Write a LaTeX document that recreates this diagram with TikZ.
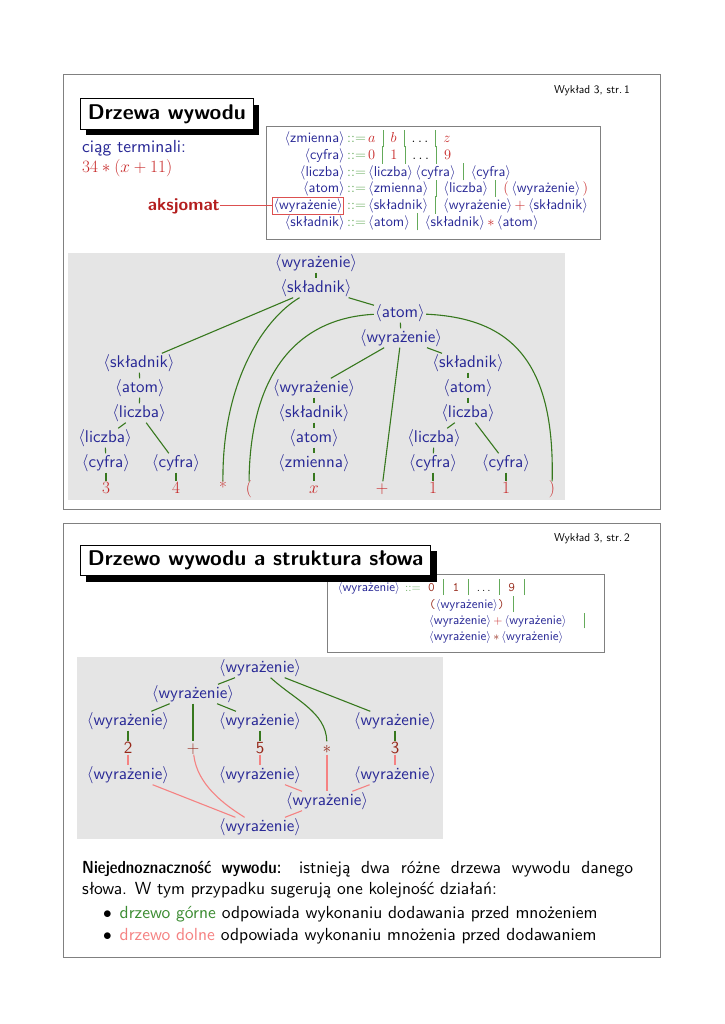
\documentclass[tikz,border=0pt]{standalone}
\usepackage{fontspec}
\setsansfont{lmsans10-regular.otf}[BoldFont=lmsans10-bold.otf]
\newfontfamily\sfdemi{lmsansdemicond10-regular.otf}
\usetikzlibrary{shadows}
\definecolor{ntblue}{RGB}{40,40,150}
\definecolor{termred}{RGB}{200,40,40}
\definecolor{treegreen}{RGB}{55,120,30}
\definecolor{gramgreen}{RGB}{100,170,90}
\definecolor{bggray}{RGB}{229,229,229}
\definecolor{framegray}{RGB}{128,128,128}
\definecolor{lowpink}{RGB}{245,130,130}
\definecolor{brownterm}{RGB}{150,40,25}
\definecolor{axred}{RGB}{180,30,30}
\definecolor{boxred}{RGB}{220,80,80}
\definecolor{textgreen}{RGB}{60,140,50}
\newcommand{\NT}[1]{$\langle$#1$\rangle$}
\newcommand{\gbar}{\hspace{0.5em}{\color{gramgreen}\rule[-0.3em]{0.8pt}{1.22em}}\hspace{0.5em}}
\newcommand{\gbarw}{\hspace{0.65em}{\color{gramgreen}\rule[-0.3em]{0.8pt}{1.25em}}\hspace{0.65em}}
\newcommand{\deriv}{{\color{gramgreen}$::=$}\hspace{0.15em}}
\newcommand{\tmr}[1]{{\color{termred}#1}}
\newcommand{\tmb}[1]{{\color{brownterm}#1}}
\tikzset{
 nt/.style={text=ntblue, font=\sffamily\fontsize{17}{20}\selectfont, inner sep=1pt, text height=12.75pt, text depth=4.25pt},
 leaf/.style={text=termred, font=\fontsize{17}{20}\selectfont, inner sep=1pt, text height=11pt, text depth=0pt},
 bleaf/.style={text=brownterm, font=\sffamily\fontsize{17}{20}\selectfont, inner sep=1pt, text height=11pt, text depth=0pt},
 ge/.style={draw=treegreen, line width=1.1pt},
 pe/.style={draw=lowpink, line width=1.1pt},
 gram/.style={text=ntblue, font=\sffamily\fontsize{14.3}{16}\selectfont, inner sep=0pt},
 gramb/.style={text=ntblue, font=\sffamily\fontsize{13}{16}\selectfont, inner sep=0pt},
 slideframe/.style={draw=framegray, line width=1pt},
 titlebox/.style={draw=black, line width=0.7pt, fill=white, font=\sffamily\bfseries\fontsize{21.3}{25}\selectfont, inner xsep=7.5pt, inner ysep=5.5pt, text height=15pt, text depth=4.5pt, general shadow={fill=black, shadow xshift=6pt, shadow yshift=-6pt}},
 gbox/.style={draw=framegray, line width=0.8pt},
 header/.style={font=\sffamily\fontsize{11.4}{13}\selectfont, inner sep=0pt},
 body/.style={font=\sffamily\fontsize{17.5}{21}\selectfont, inner sep=0pt},
}
\begin{document}
\begin{tikzpicture}[x=1pt,y=-1pt]
\useasboundingbox[fill=white] (0,0) rectangle (724,1024);
% ---------- slide 1 ----------
\draw[slideframe] (63,75) rectangle (660,509);
\node[header, anchor=east] (h1) at (630,91) {Wykład 3, str.\,1};
\node[titlebox, anchor=west] (t1) at (80,114) {Drzewa wywodu};
\node[body, text=ntblue, anchor=west] (ct) at (82,148) {ciąg terminali:};
\node[anchor=west, text=termred, font=\fontsize{17}{20}\selectfont, inner sep=0pt] (expr) at (82,168) {$34*(x+11)$};
% grammar
\draw[gbox] (266,126) rectangle (600,239);
\node[gram, anchor=base east] (g1l) at (345,143) {\NT{zmienna}};
\node[gram, anchor=base west] (g1r) at (347,143) {\deriv\tmr{$a$}\gbar\tmr{$b$}\gbar{\color{black}$\ldots$}\gbar\tmr{$z$}};
\node[gram, anchor=base east] (g2l) at (345,159.6) {\NT{cyfra}};
\node[gram, anchor=base west] (g2r) at (347,159.6) {\deriv\tmr{$0$}\gbar\tmr{$1$}\gbar{\color{black}$\ldots$}\gbar\tmr{$9$}};
\node[gram, anchor=base east] (g3l) at (345,176.2) {\NT{liczba}};
\node[gram, anchor=base west] (g3r) at (347,176.2) {\deriv\NT{liczba}\,\NT{cyfra}\gbar\NT{cyfra}};
\node[gram, anchor=base east] (g4l) at (345,192.8) {\NT{atom}};
\node[gram, anchor=base west] (g4r) at (347,192.8) {\deriv\NT{zmienna}\gbar\NT{liczba}\gbar\tmr{$($}\,\NT{wyrażenie}\,\tmr{$)$}};
\node[gram, anchor=base east, draw=boxred, line width=0.7pt, inner sep=1pt] (g5l) at (344,209.4) {\NT{wyrażenie}};
\node[gram, anchor=base west] (g5r) at (347,209.4) {\deriv\NT{składnik}\gbar\NT{wyrażenie}\,\tmr{$+$}\,\NT{składnik}};
\node[gram, anchor=base east] (g6l) at (345,226) {\NT{składnik}};
\node[gram, anchor=base west] (g6r) at (347,226) {\deriv\NT{atom}\gbar\NT{składnik}\,\tmr{$*$}\,\NT{atom}};
\node[font=\sffamily\bfseries\fontsize{17.5}{20}\selectfont, text=axred, anchor=east, inner sep=0pt] (ax) at (220,206) {aksjomat};
\draw[draw=boxred, line width=0.8pt] (g5l.west) -- (g5l.west -| ax.east);
% tree 1
\fill[bggray] (68,253) rectangle (565,500);
\node[nt] (w0) at (316,263) {\NT{wyrażenie}};
\node[nt] (s0) at (316,288) {\NT{składnik}};
\node[nt] (a0) at (400,313) {\NT{atom}};
\node[nt] (w1) at (401,338) {\NT{wyrażenie}};
\node[nt] (s1) at (139,363) {\NT{składnik}};
\node[nt] (s2) at (468,363) {\NT{składnik}};
\node[nt] (a1) at (140,388) {\NT{atom}};
\node[nt] (w2) at (314,388) {\NT{wyrażenie}};
\node[nt] (a2) at (468,388) {\NT{atom}};
\node[nt] (l1) at (139,413) {\NT{liczba}};
\node[nt] (s3) at (314,413) {\NT{składnik}};
\node[nt] (l2) at (468,413) {\NT{liczba}};
\node[nt] (l3) at (105,438) {\NT{liczba}};
\node[nt] (a3) at (314,438) {\NT{atom}};
\node[nt] (l4) at (434,438) {\NT{liczba}};
\node[nt] (c1) at (106,463) {\NT{cyfra}};
\node[nt] (c2) at (176,463) {\NT{cyfra}};
\node[nt] (z0) at (314,463) {\NT{zmienna}};
\node[nt] (c3) at (433,463) {\NT{cyfra}};
\node[nt] (c4) at (506,463) {\NT{cyfra}};
\node[leaf] (t3) at (106,488) {$3$};
\node[leaf] (t4) at (176,488) {$4$};
\node[leaf] (tstar) at (223,488) {*};
\node[leaf] (tlp) at (249,488) {$($};
\node[leaf] (tx) at (314,488) {$x$};
\node[leaf] (tplus) at (382,488) {$+$};
\node[leaf] (t1a) at (433,488) {$1$};
\node[leaf] (t1b) at (506,488) {$1$};
\node[leaf] (trp) at (552,488) {$)$};
\draw[ge] (w0) -- (s0);
\draw[ge] (s0) -- (s1);
\draw[ge] (s0) .. controls (265,318) and (222,380) .. (tstar);
\draw[ge] (s0) -- (a0);
\draw[ge] (a0) -- (w1);
\draw[ge] (a0) .. controls (300,318) and (250,370) .. (tlp);
\draw[ge] (a0) .. controls (510,318) and (555,360) .. (trp);
\draw[ge] (w1) -- (w2);
\draw[ge] (w1) -- (tplus);
\draw[ge] (w1) -- (s2);
\draw[ge] (s1) -- (a1);
\draw[ge] (a1) -- (l1);
\draw[ge] (l1) -- (l3);
\draw[ge] (l1) -- (c2);
\draw[ge] (l3) -- (c1);
\draw[ge] (c1) -- (t3);
\draw[ge] (c2) -- (t4);
\draw[ge] (w2) -- (s3);
\draw[ge] (s3) -- (a3);
\draw[ge] (a3) -- (z0);
\draw[ge] (z0) -- (tx);
\draw[ge] (s2) -- (a2);
\draw[ge] (a2) -- (l2);
\draw[ge] (l2) -- (l4);
\draw[ge] (l2) -- (c4);
\draw[ge] (l4) -- (c3);
\draw[ge] (c3) -- (t1a);
\draw[ge] (c4) -- (t1b);
% ---------- slide 2 ----------
\draw[slideframe] (63,523) rectangle (660,957);
\node[header, anchor=east] (h2) at (630,539) {Wykład 3, str.\,2};
\draw[gbox] (327,574) rectangle (604,652);
\node[titlebox, anchor=west] (t2) at (80,560.5) {Drzewo wywodu a struktura słowa};
\node[gramb, anchor=base east] (b1l) at (400,591.2) {\NT{wyrażenie}};
\node[gramb, anchor=base west] (b1d) at (405,591.2) {{\color{gramgreen}$::=$}};
\node[gramb, anchor=base west] (b1r) at (428,591.2) {\tmb{\ttfamily 0}\gbarw\tmb{\ttfamily 1}\gbarw{\color{black}$\ldots$}\gbarw\tmb{\ttfamily 9}\gbarw};
\node[gramb, anchor=base west] (b2r) at (429,608.2) {\tmb{\ttfamily (}\NT{wyrażenie}\tmb{\ttfamily )}\gbarw};
\node[gramb, anchor=base west] (b3r) at (429,624.5) {\NT{wyrażenie}\,\tmr{$+$}\,\NT{wyrażenie}\hspace{0.85em}\gbar};
\node[gramb, anchor=base west] (b4r) at (429,640.7) {\NT{wyrażenie}\,\tmb{$*$}\,\NT{wyrażenie}};
% tree 2
\fill[bggray] (77,657) rectangle (443,839);
\node[nt] (b0) at (260,668) {\NT{wyrażenie}};
\node[nt] (b1) at (193,694) {\NT{wyrażenie}};
\node[nt] (b2) at (128,721) {\NT{wyrażenie}};
\node[nt] (b3) at (260,721) {\NT{wyrażenie}};
\node[nt] (b4) at (395,721) {\NT{wyrażenie}};
\node[bleaf] (u2) at (128,748) {2};
\node[bleaf] (uplus) at (193,748) {$+$};
\node[bleaf] (u5) at (260,748) {5};
\node[bleaf] (ustar) at (327,748) {$*$};
\node[bleaf] (u3) at (395,748) {3};
\node[nt] (b5) at (128,775) {\NT{wyrażenie}};
\node[nt] (b6) at (260,775) {\NT{wyrażenie}};
\node[nt] (b7) at (395,775) {\NT{wyrażenie}};
\node[nt] (b8) at (327,801) {\NT{wyrażenie}};
\node[nt] (b9) at (260,827) {\NT{wyrażenie}};
\draw[ge] (b0) -- (b1);
\draw[ge] (b0) -- (b4);
\draw[ge] (b0) .. controls (295,700) and (326,712) .. (ustar);
\draw[ge] (b1) -- (b2);
\draw[ge] (b1) -- (uplus);
\draw[ge] (b1) -- (b3);
\draw[ge] (b2) -- (u2);
\draw[ge] (b3) -- (u5);
\draw[ge] (b4) -- (u3);
\draw[pe] (u2) -- (b5);
\draw[pe] (u5) -- (b6);
\draw[pe] (u3) -- (b7);
\draw[pe] (ustar) -- (b8);
\draw[pe] (b6) -- (b8);
\draw[pe] (b7) -- (b8);
\draw[pe] (b5) -- (b9);
\draw[pe] (uplus) .. controls (197,785) and (225,805) .. (b9);
\draw[pe] (b8) -- (b9);
% text
\node[body, anchor=base west] (p1) at (82,873) {\hbox to 551pt{{\sfdemi Niejednoznaczność wywodu:} istnieją dwa różne drzewa wywodu danego}};
\node[body, anchor=base west] (p2) at (82,894.5) {słowa. W tym przypadku sugerują one kolejność działań:};
\node[body, anchor=base west] (p3) at (103,918) {$\bullet$\hspace{0.45em}{\color{textgreen}drzewo górne} odpowiada wykonaniu dodawania przed mnożeniem};
\node[body, anchor=base west] (p4) at (103,940.5) {$\bullet$\hspace{0.45em}{\color{lowpink}drzewo dolne} odpowiada wykonaniu mnożenia przed dodawaniem};
\end{tikzpicture}
\end{document}
